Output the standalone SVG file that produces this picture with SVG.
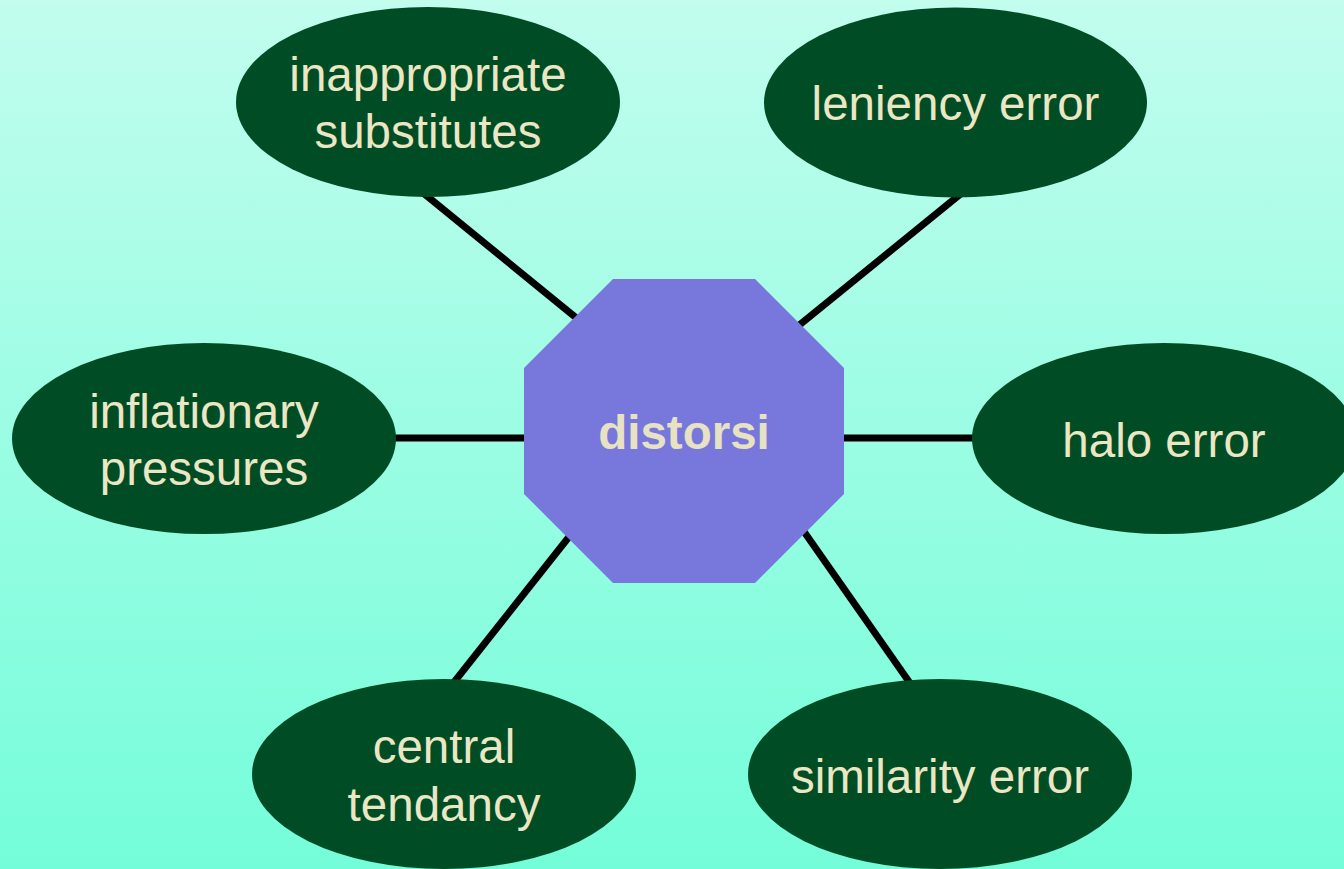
<svg xmlns="http://www.w3.org/2000/svg" width="1344" height="869" viewBox="0 0 1344 869">
<defs>
<linearGradient id="bg" x1="0" y1="0" x2="0" y2="1">
<stop offset="0" stop-color="#c2fdee"/>
<stop offset="1" stop-color="#74fdd9"/>
</linearGradient>
<style>
.ell{fill:#004d25}
.lbl{font-family:"Liberation Sans",Arial,sans-serif;font-size:47.5px;fill:#ebe6c4;text-anchor:middle}
.hub{font-family:"Liberation Sans",Arial,sans-serif;font-size:47.5px;font-weight:bold;fill:#e6e2c2;text-anchor:middle}
.con{stroke:#000;stroke-width:7;fill:none}
</style>
</defs>
<rect x="0" y="0" width="1344" height="869" fill="url(#bg)"/>
<g id="connectors">
<line class="con" x1="422" y1="192" x2="585" y2="325"/>
<line class="con" x1="963" y1="192" x2="792" y2="331"/>
<line class="con" x1="390" y1="438" x2="530" y2="438"/>
<line class="con" x1="838" y1="438" x2="978" y2="438"/>
<line class="con" x1="576" y1="528" x2="451" y2="686"/>
<line class="con" x1="798" y1="523" x2="912" y2="686"/>
</g>
<g id="hub">
<polygon points="613,279 755,279 844,368 844,494 755,583 613,583 524,494 524,368" fill="#7878dc"/>
<text class="hub" x="684" y="449">distorsi</text>
</g>
<g id="n-inappropriate">
<ellipse class="ell" cx="428" cy="102" rx="192" ry="95"/>
<text class="lbl" x="428" y="91">inappropriate</text>
<text class="lbl" x="428" y="148">substitutes</text>
</g>
<g id="n-leniency">
<ellipse class="ell" cx="955.5" cy="102.5" rx="191.5" ry="95"/>
<text class="lbl" x="955.5" y="120">leniency error</text>
</g>
<g id="n-inflationary">
<ellipse class="ell" cx="204" cy="438.5" rx="192" ry="95.5"/>
<text class="lbl" x="204" y="428">inflationary</text>
<text class="lbl" x="204" y="485">pressures</text>
</g>
<g id="n-halo">
<ellipse class="ell" cx="1164" cy="438.5" rx="192" ry="95.5"/>
<text class="lbl" x="1164" y="457">halo error</text>
</g>
<g id="n-central">
<ellipse class="ell" cx="444" cy="774" rx="192" ry="95"/>
<text class="lbl" x="444" y="763">central</text>
<text class="lbl" x="444" y="821">tendancy</text>
</g>
<g id="n-similarity">
<ellipse class="ell" cx="940" cy="774" rx="192" ry="95"/>
<text class="lbl" x="940" y="793">similarity error</text>
</g>
</svg>
